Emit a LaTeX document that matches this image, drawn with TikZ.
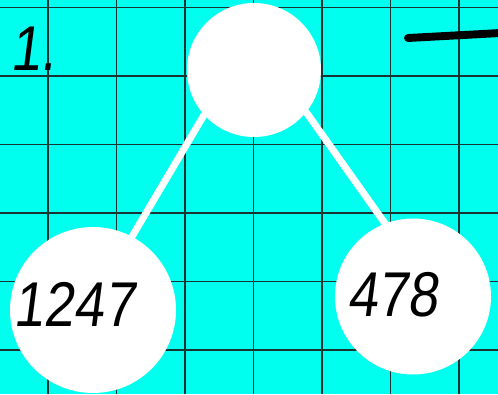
\documentclass[tikz,border=0pt]{standalone}
\usepackage{fontspec}
\newfontfamily\digitfont[FakeStretch=0.86,FakeSlant=0.13]{Liberation Sans}
\definecolor{sheet}{HTML}{00FFEE}
\definecolor{gridline}{HTML}{1A3333}
\tikzset{
  bubble/.style={circle,fill=white,inner sep=0pt},
  branch/.style={white,line width=4pt,line cap=round},
  num/.style={inner sep=0pt,font=\digitfont\fontsize{36}{36}\selectfont}
}
\begin{document}
\begin{tikzpicture}
\useasboundingbox (0,0) rectangle (9.96,7.88);
\fill[sheet] (0,0) rectangle (9.96,7.88);
% squared paper
\foreach \i in {0,...,6}
  \draw[gridline,line width=0.8pt] ({0.96+1.37*\i},0)--({0.96+1.37*\i},7.88);
\foreach \j in {0,...,5}
  \draw[gridline,line width=0.8pt] (0,{0.88+1.37*\j})--(9.96,{0.88+1.37*\j});
% number bond
\node[bubble,minimum size=2.68cm] (sum) at (5.08,6.48) {};
\node[bubble,minimum size=3.32cm] (left) at (1.86,1.68) {};
\node[bubble,minimum size=3.12cm] (right) at (8.26,1.95) {};
\draw[branch] (sum.222)--(left.62);
\draw[branch,shorten >=-3pt] (sum.321)--(right.111);
\node[num,anchor=base west] (lnum) at (0.26,1.34) {1247};
\node[num,anchor=base west] (rnum) at (6.94,1.54) {478};
\node[num,anchor=base west] (task) at (0.2,6.46) {1.};
% answer line
\draw[line width=4.5pt,line cap=round] (8.16,7.12)--(10.2,7.23);
\end{tikzpicture}
\end{document}
